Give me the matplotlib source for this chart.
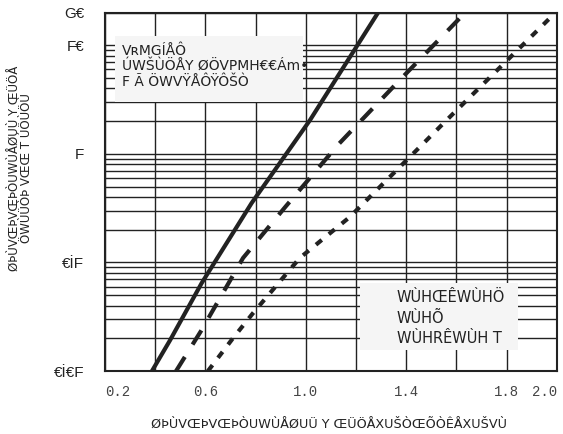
import matplotlib
matplotlib.use("Agg")
import matplotlib.pyplot as plt
from matplotlib.patches import Rectangle
from matplotlib.ticker import LogLocator, NullFormatter, FixedLocator

# curve data
solid_x = [0.387, 0.459, 0.585, 0.784, 1.017, 1.288]
solid_y = [0.0100, 0.0192, 0.0645, 0.352, 2.05, 20.0]

dash_x = [0.483, 0.582, 0.750, 0.918, 1.128, 1.375, 1.635]
dash_y = [0.0100, 0.0233, 0.110, 0.324, 1.21, 4.8, 20.0]

dot_x = [0.610, 0.710, 0.789, 0.976, 1.175, 1.574, 1.985]
dot_y = [0.0100, 0.0201, 0.034, 0.110, 0.262, 2.19, 19.0]

xtick_vals = [0.2, 0.6, 1.0, 1.4, 1.8, 2.0]
xtick_labels = ["0.2", "0.6", "1.0", "1.4", "1.8", "2.0"]
xgrid_vals = [0.2, 0.4, 0.6, 0.8, 1.0, 1.2, 1.4, 1.6, 1.8, 2.0]
ytick_vals = [0.01, 0.1, 1, 10, 20]
ytick_labels = ["€İ€F", "€İF", "F", "F€", "G€"]

box1_lines = ["VʀMGÍÅÔ", "ÚWŠÙÖÅY ØÖVPMH€€Ám•", "F Ã ÖWVŸÅÔŸÔŠÒ"]
box2_lines = ["WÙHŒÊWÙHÖ", "WÙHÕ", "WÙHRÊWÙH T"]
xlabel = "ØÞÙVŒÞVŒÞÒUWÙÅØUÜ Y ŒÜÖÅXUŠÒŒÕÒÊÅXUŠVÙ"
ylabel = "ØÞÙVŒÞVŒÞÒUWÙÅØUÙ Y ŒÜÖÅ\nÖWÙÜÒÞ VŒŒ T ÚÖÙÖÙ"

narrow = ["Liberation Sans Narrow", "DejaVu Sans"]
ink = "#222222"

fig = plt.figure(figsize=(5.63, 4.34), dpi=100)
ax = fig.add_axes([0.1865, 0.145, 0.8025, 0.826])

ax.set_yscale("log")
ax.set_xlim(0.2, 2.0)
ax.set_ylim(0.01, 20)

ax.plot(solid_x, solid_y, color=ink, lw=3.0, solid_capstyle="butt", zorder=4)
ax.plot(dash_x, dash_y, color=ink, lw=3.0, dashes=(4, 3.5), zorder=4)
ax.plot(dot_x, dot_y, color=ink, lw=3.0, dashes=(1.8, 2.2), zorder=4)

# grid
ax.xaxis.set_minor_locator(FixedLocator(xgrid_vals))
ax.yaxis.set_minor_locator(LogLocator(base=10, subs=range(2, 10)))
ax.yaxis.set_minor_formatter(NullFormatter())
ax.grid(which="both", axis="both", color=ink, lw=1.0, zorder=1)
ax.set_axisbelow(True)

ax.set_xticks(xtick_vals, xtick_labels, family="Liberation Mono", fontsize=10, color="#444444")
ax.set_yticks(ytick_vals, ytick_labels, family=["Liberation Sans", "DejaVu Sans"],
              fontsize=11, color=ink)
ax.tick_params(which="both", length=0)
ax.tick_params(axis="x", pad=10)
ax.tick_params(axis="y", pad=15)
xl = ax.get_xticklabels()
xl[0].set_ha("left")
xl[-1].set_ha("right")

for s in ax.spines.values():
    s.set_color(ink)
    s.set_linewidth(1.5)

# annotation boxes
ax.add_patch(Rectangle((0.022, 0.751), 0.416, 0.184, transform=ax.transAxes,
                       facecolor="#f5f5f5", edgecolor="none", zorder=3))
for txt, yy in zip(box1_lines, [0.893, 0.851, 0.806]):
    ax.text(0.038, yy, txt, transform=ax.transAxes, family=narrow, fontsize=10,
            color=ink, va="center", ha="left", zorder=5)

ax.add_patch(Rectangle((0.564, 0.0586), 0.35, 0.187, transform=ax.transAxes,
                       facecolor="#f5f5f5", edgecolor="none", zorder=3))
for txt, yy in zip(box2_lines, [0.2065, 0.148, 0.092]):
    ax.text(0.646, yy, txt, transform=ax.transAxes, family=narrow, fontsize=10.5,
            color=ink, va="center", ha="left", zorder=5)

fig.text(0.585, 0.008, xlabel, family=narrow, fontsize=9.2, color=ink, ha="center", va="bottom")
fig.text(0.036, 0.613, ylabel, family=narrow, fontsize=8.5, color=ink, rotation=90,
         ha="center", va="center", multialignment="center", linespacing=1.0)

fig.savefig("out.png", dpi=100)
